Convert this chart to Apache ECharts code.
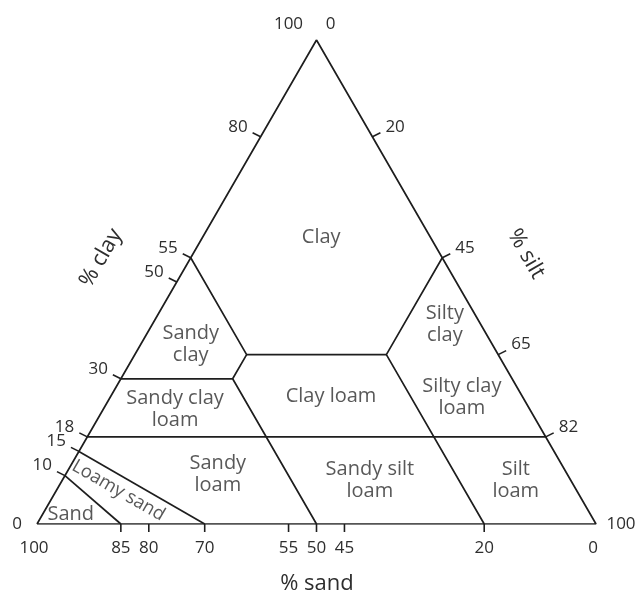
<!DOCTYPE html>
<html>
<head>
<meta charset="utf-8">
<style>
  html, body { margin: 0; padding: 0; background: #fff; }
  #chart { width: 641px; height: 597px; }
</style>
<script src="https://cdn.jsdelivr.net/npm/echarts@6/dist/echarts.min.js"></script>
</head>
<body>
<div id="chart"></div>
<script>
// soil texture triangle, points given as [clay %, sand %] (silt = rest)
const H = Math.sqrt(3) / 2

const clayTicks = [10, 15, 18, 30, 50, 55, 80]
const siltTicks = [20, 45, 65, 82]
const sandTicks = [85, 80, 70, 55, 50, 45, 20]

const triangle = [[0, 100], [0, 0], [100, 0], [0, 100]]
const sandLine = [[10, 90], [0, 85]]
const loamySandLine = [[15, 85], [0, 70]]
const clay18Line = [[18, 82], [18, 0]]
const clay30Line = [[30, 70], [30, 50]]
const clay35Line = [[35, 45], [35, 20]]
const sandyClayEdge = [[55, 45], [35, 45], [30, 50], [0, 50]]
const siltyClayEdge = [[55, 0], [35, 20], [0, 20]]

const regionNames = ['Clay', 'Sandy\nclay', 'Silty\nclay', 'Sandy clay\nloam', 'Clay loam',
  'Silty clay\nloam', 'Sandy\nloam', 'Sandy silt\nloam', 'Silt\nloam', 'Loamy sand', 'Sand']
const regionAt = [[59.3, 19.5], [37.2, 53.9], [41.3, 6.4], [23.6, 63.5], [26.4, 34.2],
  [26.2, 10.9], [10.3, 62.5], [9.1, 35.9], [9.1, 9.8], [6.9, 82], [2.1, 92.9]]

function xy(clay, sand) {
  const silt = 100 - clay - sand
  return [silt + clay / 2, clay * H]
}

const FONT = '"Open Sans", "Noto Sans", sans-serif'
const INK = '#1e1e1e'
const TEXT = '#2e2e2e'

function lineSeries(pts) {
  return {
    type: 'line',
    data: pts.map(p => xy(p[0], p[1])),
    symbol: 'none',
    silent: true,
    lineStyle: { color: INK, width: 1.7 },
    z: 2
  }
}

// tick mark + label, offsets in pixels
function tickSeries(data, dx, dy, lx, ly, align) {
  return {
    type: 'custom',
    data: data,
    silent: true,
    z: 3,
    renderItem: function(params, api) {
      const p = api.coord([api.value(0), api.value(1)])
      const ex = p[0] + dx, ey = p[1] + dy
      return {
        type: 'group',
        children: [
          { type: 'line', shape: { x1: p[0], y1: p[1], x2: ex, y2: ey }, style: { stroke: INK, lineWidth: 1.6 } },
          { type: 'text', style: { text: String(api.value(2)), x: ex + lx, y: ey + ly, align: align,
            verticalAlign: 'middle', font: '17px ' + FONT, fill: TEXT } }
        ]
      }
    }
  }
}

const cornerLabels = [
  { pt: xy(0, 100), text: '0', dx: -20, dy: 0 },
  { pt: xy(0, 100), text: '100', dx: -3, dy: 24 },
  { pt: xy(0, 0), text: '100', dx: 25, dy: 0 },
  { pt: xy(0, 0), text: '0', dx: -3, dy: 24 },
  { pt: xy(100, 0), text: '100', dx: -28, dy: -16 },
  { pt: xy(100, 0), text: '0', dx: 14, dy: -16 }
]

const chart = echarts.init(document.getElementById('chart'))
chart.setOption({
  animation: false,
  grid: { left: 37, right: 45, top: 40, bottom: 73 },
  xAxis: { type: 'value', min: 0, max: 100, show: false },
  yAxis: { type: 'value', min: 0, max: 100 * H, show: false },
  series: [
    lineSeries(triangle),
    lineSeries(sandLine),
    lineSeries(loamySandLine),
    lineSeries(clay18Line),
    lineSeries(clay30Line),
    lineSeries(clay35Line),
    lineSeries(sandyClayEdge),
    lineSeries(siltyClayEdge),
    tickSeries(clayTicks.map(c => xy(c, 100 - c).concat(c)), -8, -4, -5, -6, 'right'),
    tickSeries(siltTicks.map(t => xy(100 - t, 0).concat(t)), 8, -4, 5, -6, 'left'),
    tickSeries(sandTicks.map(s => xy(0, s).concat(s)), 0, 8, 0, 16, 'center'),
    {
      type: 'custom',
      silent: true,
      data: cornerLabels.map(c => c.pt),
      renderItem: function(params, api) {
        const c = cornerLabels[params.dataIndex]
        const p = api.coord([api.value(0), api.value(1)])
        return { type: 'text', style: { text: c.text, x: p[0] + c.dx, y: p[1] + c.dy, align: 'center',
          verticalAlign: 'middle', font: '17px ' + FONT, fill: TEXT } }
      }
    },
    {
      type: 'scatter',
      symbolSize: 0,
      silent: true,
      data: regionNames.map((n, i) => ({
        name: n,
        value: xy(regionAt[i][0], regionAt[i][1]),
        label: n === 'Loamy sand' ? { rotate: -30, fontSize: 18.5 } : {}
      })),
      label: {
        show: true,
        position: 'inside',
        formatter: '{b}',
        fontFamily: FONT,
        fontSize: 20,
        lineHeight: 22,
        color: TEXT,
        align: 'center'
      }
    }
  ],
  graphic: [
    { type: 'text', x: 101, y: 258, rotation: Math.PI / 3, style: { text: '% clay', font: '22px ' + FONT, fill: TEXT, align: 'center', verticalAlign: 'middle' } },
    { type: 'text', x: 526, y: 254, rotation: -Math.PI / 3, style: { text: '% silt', font: '22px ' + FONT, fill: TEXT, align: 'center', verticalAlign: 'middle' } },
    { type: 'text', x: 317, y: 584, style: { text: '% sand', font: '22px ' + FONT, fill: TEXT, align: 'center', verticalAlign: 'middle' } }
  ]
})
</script>
</body>
</html>
